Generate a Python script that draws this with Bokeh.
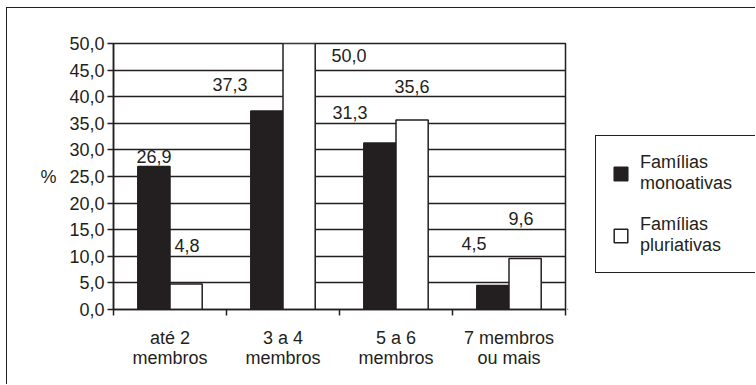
from bokeh.plotting import figure
from bokeh.layouts import row
from bokeh.models import ColumnDataSource, Range1d, FixedTicker, Legend, LegendItem
from bokeh.core.properties import value
from bokeh.embed import file_html
from bokeh.resources import INLINE

# Household size groups and share of families (%)
categories = ["até 2\nmembros", "3 a 4\nmembros", "5 a 6\nmembros", "7 membros\nou mais"]
monoativas = [26.9, 37.3, 31.3, 4.5]
pluriativas = [4.8, 50.0, 35.6, 9.6]
y_ticks = [0, 5, 10, 15, 20, 25, 30, 35, 40, 45, 50]
y_tick_labels = ["0,0", "5,0", "10,0", "15,0", "20,0", "25,0", "30,0", "35,0", "40,0", "45,0", "50,0"]
series_names = ["Famílias\nmonoativas", "Famílias\npluriativas"]

# Label placement (pixel offsets from each bar's top centre: right, up)
mono_label_dx = [0, -37, -30, -19]
mono_label_dy = [10, 27, 30, 42]
pluri_label_dx = [1, 50, 0, -4]
pluri_label_dy = [38, -12, 34, 40]

INK = "#231f20"
FONT = "Liberation Sans"
FS = "18px"
BAR_W = 0.285

centers = [i + 0.5 for i in range(len(categories))]


def fmt(v):
    return f"{v:.1f}".replace(".", ",")


mono_src = ColumnDataSource(dict(
    x=[c - BAR_W / 2 for c in centers], top=monoativas,
    label=[fmt(v) for v in monoativas],
    dx=mono_label_dx, dy=[-d for d in mono_label_dy]))
pluri_src = ColumnDataSource(dict(
    x=[c + BAR_W / 2 for c in centers], top=pluriativas,
    label=[fmt(v) for v in pluriativas],
    dx=pluri_label_dx, dy=[-d for d in pluri_label_dy]))

p = figure(width=560, height=376, output_backend="svg", toolbar_location=None,
           x_range=Range1d(0, len(categories)), y_range=Range1d(0, 50),
           min_border_left=106, min_border_right=2, min_border_top=35,
           min_border_bottom=75, background_fill_color="white",
           border_fill_color="white")

p.outline_line_color = INK
p.outline_line_width = 1.5
p.xgrid.visible = False
p.ygrid.grid_line_color = INK
p.ygrid.grid_line_width = 1.3
p.ygrid.ticker = FixedTicker(ticks=y_ticks)

# y axis
p.yaxis.ticker = FixedTicker(ticks=y_ticks, minor_ticks=[])
p.yaxis.major_label_overrides = {t: l for t, l in zip(y_ticks, y_tick_labels)}
p.yaxis.axis_label = "%"
p.yaxis.axis_label_orientation = "horizontal"
p.yaxis.axis_label_standoff = 10
p.yaxis.axis_label_text_font = FONT
p.yaxis.axis_label_text_font_size = FS
p.yaxis.axis_label_text_font_style = "normal"
p.yaxis.axis_label_text_color = INK

# x axis: labels at group centres, tick marks at group boundaries
p.xaxis.ticker = FixedTicker(ticks=centers, minor_ticks=list(range(len(categories) + 1)))
p.xaxis.major_label_overrides = {c: l for c, l in zip(centers, categories)}
p.xaxis.major_tick_out = 0
p.xaxis.major_tick_in = 0
p.xaxis.minor_tick_out = 6
p.xaxis.minor_tick_in = 0
p.xaxis.major_label_standoff = 12
p.xaxis.major_label_text_line_height = 1.0

for ax in (p.xaxis, p.yaxis):
    ax.axis_line_color = INK
    ax.axis_line_width = 1.5
    ax.major_tick_line_color = INK
    ax.minor_tick_line_color = INK
    ax.major_tick_line_width = 1.5
    ax.minor_tick_line_width = 1.5
    ax.major_label_text_font = FONT
    ax.major_label_text_font_size = FS
    ax.major_label_text_color = INK

p.yaxis.major_tick_out = 6
p.yaxis.major_tick_in = 0
p.yaxis.minor_tick_out = 0
p.yaxis.minor_tick_in = 0
p.yaxis.major_label_standoff = 3

p.vbar(x="x", top="top", width=BAR_W, source=mono_src,
       fill_color=INK, line_color=INK, line_width=1.5)
p.vbar(x="x", top="top", width=BAR_W, source=pluri_src,
       fill_color="white", line_color=INK, line_width=1.5)

for src in (mono_src, pluri_src):
    p.text(x="x", y="top", text="label", x_offset="dx", y_offset="dy", source=src,
           text_align="center", text_baseline="middle", text_color=INK,
           text_font=value(FONT), text_font_size=FS)

# legend panel beside the chart; its swatch renderers sit outside the visible range
lp = figure(width=188, height=376, output_backend="svg", toolbar_location=None,
            x_axis_location=None, y_axis_location=None,
            x_range=Range1d(0, 1), y_range=Range1d(0, 1),
            min_border=0, outline_line_color=None,
            background_fill_color="white", border_fill_color="white")
lp.grid.visible = False
sw_mono = lp.vbar(x=[-5], top=[-5], width=0.1, fill_color=INK, line_color=INK, line_width=1.5)
sw_pluri = lp.vbar(x=[-5], top=[-5], width=0.1, fill_color="white", line_color=INK, line_width=1.5)

legend = Legend(items=[LegendItem(label=series_names[0], renderers=[sw_mono]),
                       LegendItem(label=series_names[1], renderers=[sw_pluri])],
                location=(28, 36), orientation="vertical",
                border_line_color=INK, border_line_width=1.5, border_line_alpha=1,
                background_fill_color="white", background_fill_alpha=1,
                padding=16, spacing=20, margin=0,
                glyph_width=17, glyph_height=17, label_standoff=11,
                label_width=99,
                label_text_font=FONT, label_text_font_size=FS,
                label_text_color=INK, label_text_line_height=1.25)
lp.add_layout(legend, "center")

layout = row(p, lp)
# frame lines around the whole chart (only its top and left edges fall in view)
layout.styles = {"margin-left": "6px", "margin-top": "7px",
                 "border-left": f"1.5px solid {INK}", "border-top": f"1.5px solid {INK}"}

open("out.html", "w").write(file_html(layout, INLINE))
